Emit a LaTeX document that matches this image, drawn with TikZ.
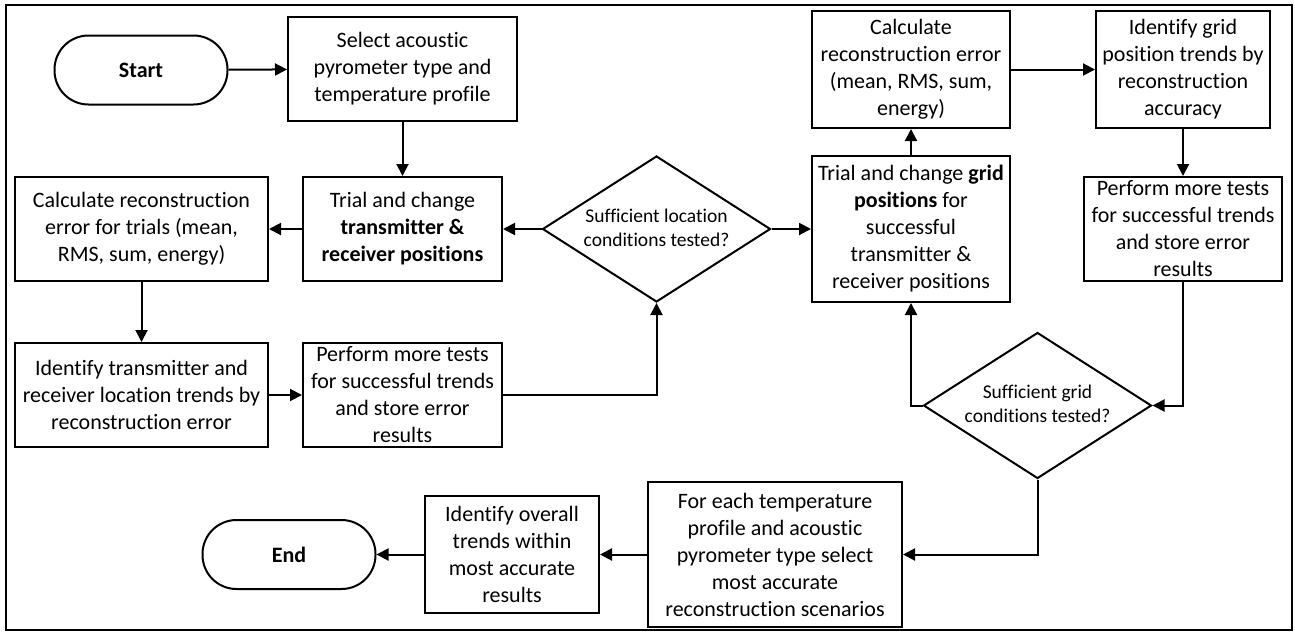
\documentclass[tikz,border=0pt]{standalone}
\usepackage{fontspec}
\setmainfont{Carlito}[Ligatures={NoCommon}]
\usetikzlibrary{shapes.geometric,arrows.meta}
% centred multi-line text that takes no room, so the diamond keeps its set size
\newcommand{\flatlabel}[1]{\smash{\makebox[0pt]{\raisebox{-5.5pt}{\begin{tabular}{@{}c@{}}#1\end{tabular}}}}}
\begin{document}
\begin{tikzpicture}[x=1pt,y=-1pt,
  every node/.style={align=center,inner sep=0pt,font=\fontsize{22}{27}\selectfont},
  box/.style={draw,line width=2pt,rectangle},
  term/.style={draw,line width=2pt,rectangle,rounded corners=34pt,minimum width=173pt,minimum height=69pt,font=\fontsize{22}{27}\selectfont\bfseries},
  decide/.style={draw,line width=2pt,diamond,minimum width=228pt,minimum height=146pt,font=\fontsize{19.5}{24}\selectfont\renewcommand{\arraystretch}{1.0}},
  flow/.style={line width=2pt,-{Triangle[length=12pt,width=12pt]}}]
\useasboundingbox (0,0) rectangle (1295,632);
\draw[line width=2.2pt] (6,5) rectangle (1292,630);

% left half
\node[term] (start) at (141,70) {Start};
\node[box,minimum width=229pt,minimum height=104pt] (select) at (402.5,69) {Select acoustic\\pyrometer type and\\temperature profile};
\node[box,minimum width=199pt,minimum height=104pt] (trialtr) at (402.5,229) {Trial and change\\\textbf{transmitter \&}\\\textbf{receiver positions}};
\node[box,minimum width=253pt,minimum height=104pt] (calctr) at (141.5,229) {Calculate reconstruction\\error for trials (mean,\\RMS, sum, energy)};
\node[box,minimum width=253pt,minimum height=104pt] (idtr) at (141.5,395) {Identify transmitter and\\receiver location trends by\\reconstruction error};
\node[box,minimum width=199pt,minimum height=104pt] (perfl) at (402.5,395) {Perform more tests\\for successful trends\\and store error\\results};
\node[decide] (dloc) at (656.5,229) {\flatlabel{Sufficient location\\conditions tested?}};

% right half
\node[box,minimum width=198pt,minimum height=146pt] (trialg) at (911,229) {Trial and change \textbf{grid}\\\textbf{positions} for\\successful\\transmitter \&\\receiver positions};
\node[box,minimum width=198pt,minimum height=117pt] (calcg) at (911,69.5) {Calculate\\reconstruction error\\(mean, RMS, sum,\\energy)};
\node[box,minimum width=174pt,minimum height=117pt] (idg) at (1183,69.5) {Identify grid\\position trends by\\reconstruction\\accuracy};
\node[box,minimum width=198pt,minimum height=104pt] (perfr) at (1183,229) {Perform more tests\\for successful trends\\and store error\\results};
\node[decide] (dgrid) at (1037.5,405.5) {\flatlabel{Sufficient grid\\conditions tested?}};

% bottom row
\node[box,minimum width=254pt,minimum height=145pt] (foreach) at (775,554.5) {For each temperature\\profile and acoustic\\pyrometer type select\\most accurate\\reconstruction scenarios};
\node[box,minimum width=174pt,minimum height=117pt] (idall) at (512,554.5) {Identify overall\\trends within\\most accurate\\results};
\node[term] (end) at (289,554.5) {End};

\coordinate (j1) at (perfl.east -| dloc.south);
\coordinate (j2) at (perfr.south |- dgrid.east);
\coordinate (j3) at (trialg.south |- dgrid.west);
\coordinate (j4) at (dgrid.south |- foreach.east);

\draw[flow] (start) -- (select);
\draw[flow] (select) -- (trialtr);
\draw[flow] (trialtr) -- (calctr);
\draw[flow] (calctr) -- (idtr);
\draw[flow] (idtr) -- (perfl);
\draw[flow] (perfl.east) -- (j1) -- (dloc.south);
\draw[flow] (dloc.west) -- (trialtr.east);
\draw[flow] (dloc.east) -- (trialg.west);
\draw[flow] (trialg) -- (calcg);
\draw[flow] (calcg.east |- idg.west) -- (idg.west);
\draw[flow] (idg) -- (perfr);
\draw[flow] (perfr.south) -- (j2) -- (dgrid.east);
\draw[flow] (dgrid.west) -- (j3) -- (trialg.south);
\draw[flow] (dgrid.south) -- (j4) -- (foreach.east);
\draw[flow] (foreach) -- (idall);
\draw[flow] (idall) -- (end);
\end{tikzpicture}
\end{document}
